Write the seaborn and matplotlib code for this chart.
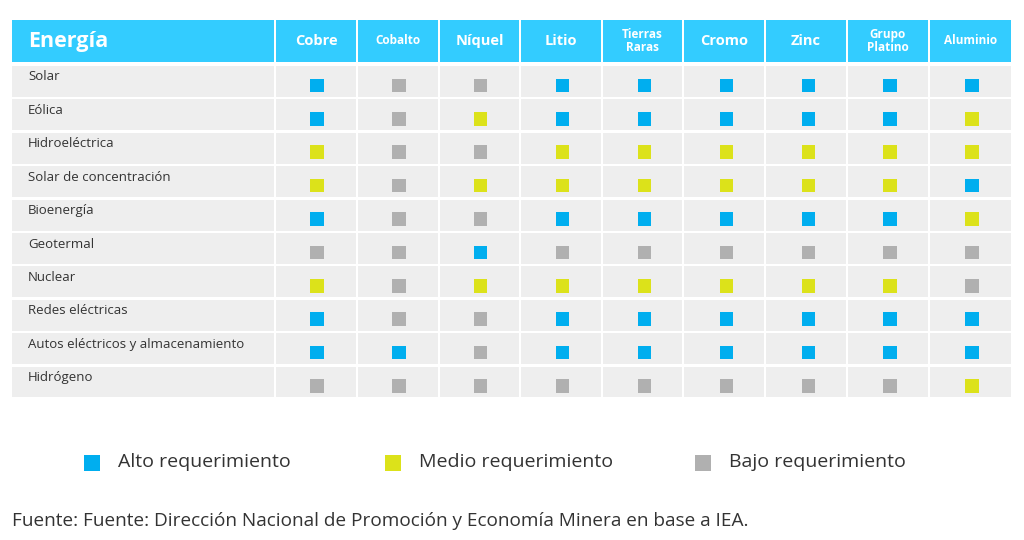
import matplotlib
matplotlib.use("Agg")
import matplotlib.pyplot as plt
from matplotlib.patches import Rectangle
import seaborn as sns
import pandas as pd

minerals = ["Cobre", "Cobalto", "Níquel", "Litio", "Tierras\nRaras", "Cromo", "Zinc", "Grupo\nPlatino", "Aluminio"]
energies = ["Solar", "Eólica", "Hidroeléctrica", "Solar de concentración", "Bioenergía", "Geotermal",
            "Nuclear", "Redes eléctricas", "Autos eléctricos y almacenamiento", "Hidrógeno"]
levels = [
    "ABBAAAAAA",
    "ABMAAAAAM",
    "MBBMMMMMM",
    "MBMMMMMMA",
    "ABBAAAAAM",
    "BBABBBBBB",
    "MBMMMMMMB",
    "ABBAAAAAA",
    "AABAAAAAA",
    "BBBBBBBBM",
]
legend_labels = {"A": "Alto requerimiento", "M": "Medio requerimiento", "B": "Bajo requerimiento"}
colors = {"A": "#00AEEF", "M": "#DCE21A", "B": "#B0B0B0"}

sns.set_theme(style="white")
plt.rcParams['font.family'] = ['Open Sans', 'DejaVu Sans']

fig = plt.figure(figsize=(10.24, 5.4), dpi=100)
ax = fig.add_axes([0, 0, 1, 1])
ax.set_xlim(0, 1024); ax.set_ylim(540, 0); ax.axis("off")

bounds = [12, 276, 358, 440, 521, 603, 684, 766, 848, 930, 1013]
for i in range(10):
    ax.add_patch(Rectangle((bounds[i], 20), bounds[i+1]-bounds[i]-2, 42, color="#33CCFF", lw=0))
ax.text(28, 42, "Energía", color="white", fontsize=15.5, fontweight="bold", va="center")
for j, m in enumerate(minerals):
    cx = (bounds[j+1] + bounds[j+2] - 2) / 2
    small = "\n" in m or len(m) > 6
    ax.text(cx, 41, m, color="white", fontsize=8.5 if small else 10.5, fontweight="bold",
            ha="center", va="center", linespacing=1.0)
rh = 33.4
for r, e in enumerate(energies):
    y0 = 66 + r*rh
    for i in range(10):
        ax.add_patch(Rectangle((bounds[i], y0), bounds[i+1]-bounds[i]-2, rh-2.5, color="#EEEEEE", lw=0))
    ax.text(28, y0 + 11, e, fontsize=9.5, color="#333333", va="center")

for (k, lab), x in zip(legend_labels.items(), [84, 385, 695]):
    ax.add_patch(Rectangle((x, 455), 16, 16, color=colors[k], lw=0))
    ax.text(x + 34, 462, lab, fontsize=14, color="#333333", va="center")
ax.text(12, 521, "Fuente: Fuente: Dirección Nacional de Promoción y Economía Minera en base a IEA.",
        fontsize=13.7, color="#333333", va="center")

rows = []
for r, e in enumerate(energies):
    for j, m in enumerate(minerals):
        rows.append({"x": j, "y": r + 0.08, "nivel": levels[r][j]})
df = pd.DataFrame(rows)
ax2 = fig.add_axes([276/1024, 1-400/540, 737/1024, 334/540])
sns.scatterplot(data=df, x="x", y="y", hue="nivel", palette=colors, marker="s", s=95,
                linewidth=0, legend=False, ax=ax2)
ax2.set_xlim(-0.5, 8.5); ax2.set_ylim(9.5, -0.5); ax2.axis("off")
ax2.patch.set_alpha(0)

fig.savefig("out.png", dpi=100, facecolor="white")
